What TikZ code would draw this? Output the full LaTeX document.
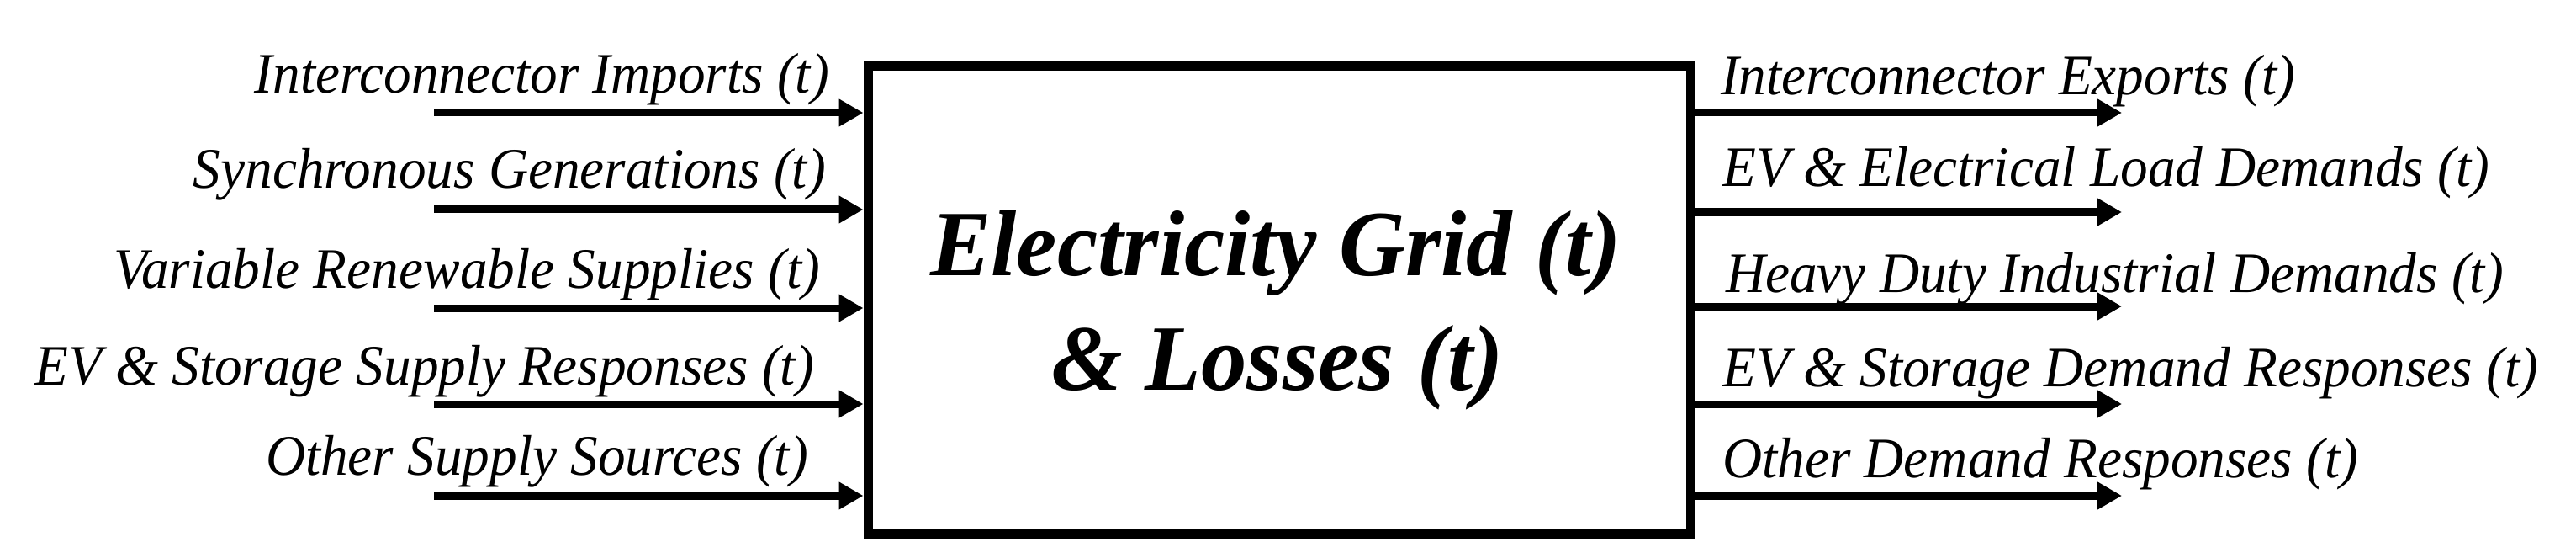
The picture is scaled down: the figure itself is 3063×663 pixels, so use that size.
\documentclass[tikz,border=0pt]{standalone}
\usepackage{fontspec}
\setmainfont{Liberation Serif}
\newfontfamily\lblfont[FakeStretch=0.96]{Liberation Serif}
\newfontfamily\ttlfont[FakeStretch=0.98]{Liberation Serif}
\usetikzlibrary{arrows.meta}
\begin{document}
\begin{tikzpicture}[x=1pt,y=-1pt,
  lbl/.style={inner sep=0pt,font=\lblfont\fontsize{68}{80}\selectfont\itshape},
  ttl/.style={inner sep=0pt,font=\ttlfont\fontsize{111}{130}\selectfont\bfseries\itshape},
  flow/.style={line width=9pt,-{Triangle[length=29pt,width=31pt]}},
  gridbox/.style={draw,line width=11pt,minimum width=978pt,minimum height=555pt,inner sep=0pt}]
\useasboundingbox (0,0) rectangle (3063,663);
\node[gridbox] (grid) at (1521,356.5) {};
\node[ttl,anchor=base] (t1) at (1517,327) {Electricity Grid (t)};
\node[ttl,anchor=base] (t2) at (1519,463) {\& Losses (t)};
% inputs
\node[lbl,anchor=base east] (i1) at (986,111) {Interconnector Imports (t)};
\node[lbl,anchor=base east] (i2) at (982,224) {Synchronous Generations (t)};
\node[lbl,anchor=base east] (i3) at (975,342) {Variable Renewable Supplies (t)};
\node[lbl,anchor=base east] (i4) at (968,457) {EV \& Storage Supply Responses (t)};
\node[lbl,anchor=base east] (i5) at (961,564) {Other Supply Sources (t)};
\coordinate (a1) at (516,134);
\coordinate (a2) at (516,249);
\coordinate (a3) at (516,366);
\coordinate (a4) at (516,480);
\coordinate (a5) at (516,589);
\foreach \k in {1,...,5} {\draw[flow] (a\k) -- (a\k -| grid.west);}
% outputs
\node[lbl,anchor=base west] (o1) at (2046,113) {Interconnector Exports (t)};
\node[lbl,anchor=base west] (o2) at (2048,222) {EV \& Electrical Load Demands (t)};
\node[lbl,anchor=base west] (o3) at (2052,347) {Heavy Duty Industrial Demands (t)};
\node[lbl,anchor=base west] (o4) at (2048,459) {EV \& Storage Demand Responses (t)};
\node[lbl,anchor=base west] (o5) at (2048,567) {Other Demand Responses (t)};
\coordinate (b1) at (2523,134);
\coordinate (b2) at (2523,252);
\coordinate (b3) at (2523,364);
\coordinate (b4) at (2523,480);
\coordinate (b5) at (2523,589);
\foreach \k in {1,...,5} {\draw[flow] (b\k -| grid.east) -- (b\k);}
\end{tikzpicture}
\end{document}
